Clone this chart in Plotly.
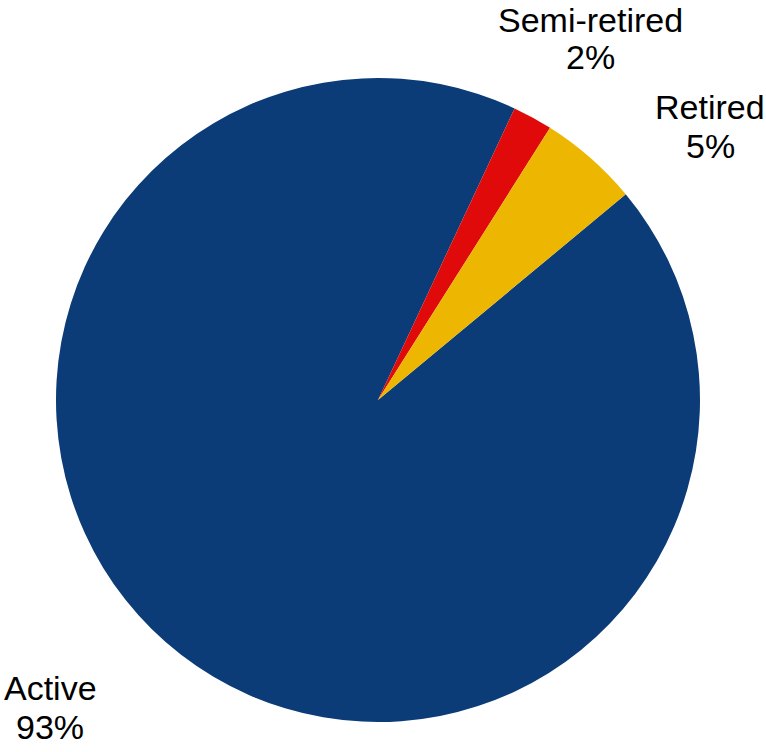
import plotly.graph_objects as go

labels = ["Active", "Semi-retired", "Retired"]
values = [93, 2, 5]
colors = ["#0B3C78", "#E00A0A", "#EDB600"]

fig = go.Figure(go.Pie(
    labels=labels,
    values=values,
    sort=False,
    direction="clockwise",
    rotation=50.3,
    marker=dict(colors=colors, line=dict(width=0)),
    textinfo="none",
    hoverinfo="label+percent",
    showlegend=False,
    domain=dict(x=[56/766, 700/766], y=[1-722/752, 1-78/752]),
))

# label positions (pixel centres: x, name line y, percent line y)
label_pos = {"Active": (50, 688, 727), "Semi-retired": (590, 20, 57), "Retired": (710, 107, 146)}
font = dict(family="Liberation Sans, Arial, sans-serif", size=34, color="#000000")
total = sum(values)
for lab, val in zip(labels, values):
    x, y1, y2 = label_pos[lab]
    fig.add_annotation(x=x/766, y=1-y1/752, xref="paper", yref="paper", text=lab,
                       showarrow=False, font=font, xanchor="center", yanchor="middle")
    fig.add_annotation(x=x/766, y=1-y2/752, xref="paper", yref="paper",
                       text=f"{round(val/total*100)}%",
                       showarrow=False, font=font, xanchor="center", yanchor="middle")

fig.update_layout(width=766, height=752, margin=dict(l=0, r=0, t=0, b=0),
                  paper_bgcolor="white", plot_bgcolor="white")
fig.write_html("out.html", config={"displayModeBar": False},
               post_script="document.body.style.margin='0';")
